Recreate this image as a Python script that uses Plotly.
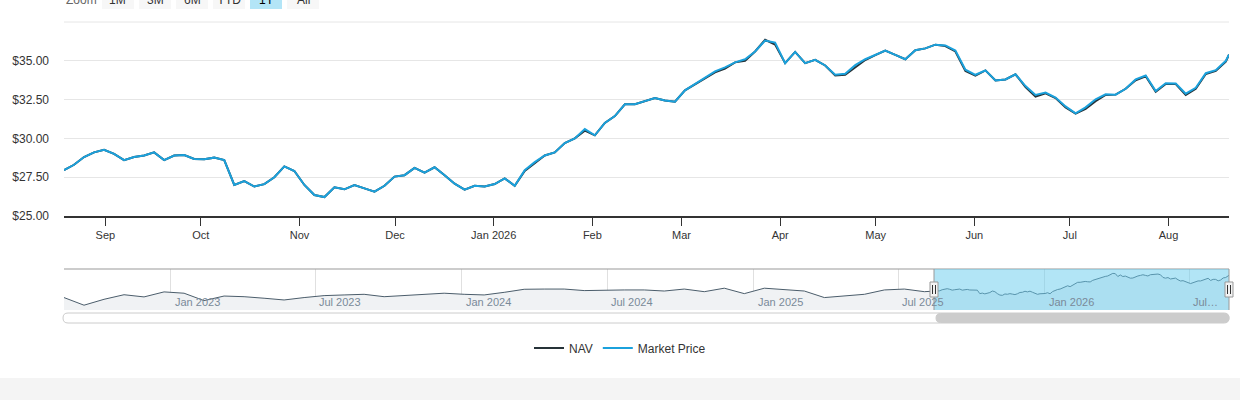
import pandas as pd
import plotly.graph_objects as go

# ---- data ----
market_price = [27.95, 28.3, 28.8, 29.1, 29.27, 29.0, 28.6, 28.8, 28.9, 29.1, 28.6, 28.9, 28.93, 28.68, 28.65,
                28.76, 28.6, 27.0, 27.25, 26.9, 27.05, 27.5, 28.2, 27.9, 27.0, 26.35, 26.22, 26.85, 26.72, 27.0,
                26.78, 26.57, 26.95, 27.54, 27.63, 28.1, 27.8, 28.14, 27.63, 27.08, 26.7, 26.95, 26.9, 27.06, 27.42,
                26.95, 27.95, 28.47, 28.9, 29.1, 29.7, 30.0, 30.6, 30.2, 31.0, 31.44, 32.2, 32.2, 32.4,
                32.6, 32.44, 32.37, 33.1, 33.5, 33.9, 34.32, 34.58, 34.9, 35.1, 35.6, 36.3, 36.17, 34.85, 35.57,
                34.85, 35.06, 34.7, 34.1, 34.17, 34.72, 35.1, 35.36, 35.66, 35.38, 35.1, 35.68, 35.8, 36.04,
                35.99, 35.66, 34.43, 34.1, 34.38, 33.73, 33.8, 34.13, 33.37, 32.8, 32.95, 32.63, 32.06, 31.62,
                32.0, 32.52, 32.84, 32.82, 33.2, 33.8, 34.05, 33.05, 33.56, 33.54, 32.88, 33.26, 34.2, 34.4, 35.0, 35.4]
nav = [27.95, 28.3, 28.8, 29.1, 29.27, 29.0, 28.6, 28.8, 28.9, 29.1, 28.6, 28.9, 28.93, 28.68, 28.65,
       28.76, 28.6, 27.0, 27.25, 26.9, 27.05, 27.5, 28.2, 27.9, 27.0, 26.35, 26.22, 26.85, 26.72, 27.0,
       26.78, 26.57, 26.95, 27.54, 27.63, 28.1, 27.8, 28.14, 27.63, 27.08, 26.7, 26.95, 26.9, 27.06, 27.42,
       26.95, 27.9, 28.42, 28.9, 29.1, 29.7, 30.0, 30.5, 30.2, 31.0, 31.44, 32.2, 32.2, 32.4,
       32.6, 32.44, 32.37, 33.1, 33.5, 33.9, 34.25, 34.5, 34.9, 35.0, 35.6, 36.35, 36.05, 34.85, 35.57,
       34.85, 35.06, 34.7, 34.05, 34.1, 34.6, 35.05, 35.36, 35.66, 35.38, 35.1, 35.68, 35.8, 36.04,
       35.95, 35.6, 34.35, 34.05, 34.38, 33.73, 33.8, 34.13, 33.3, 32.7, 32.9, 32.6, 32.0, 31.6,
       31.9, 32.4, 32.8, 32.82, 33.2, 33.75, 34.0, 33.0, 33.5, 33.5, 32.8, 33.2, 34.15, 34.35, 34.95, 35.4]
main_start, main_end_sample, main_end = "2025-08-19", "2026-08-19", "2026-08-20"

history = [25.2, 21.7, 24.4, 26.5, 25.5, 27.8, 27.2, 23.8, 25.9, 25.6, 24.9, 24.1, 25.2, 26.1, 26.4,
           26.7, 25.6, 26.1, 26.7, 27.2, 26.7, 26.4, 27.6, 29.0, 29.1, 29.1, 28.4, 28.7, 28.7, 28.7,
           28.2, 29.1, 27.9, 29.5, 27.0, 29.5, 28.7, 28.2, 25.2, 26.1, 26.7, 28.7, 29.1, 27.9]
hist_start, hist_end = "2022-08-20", "2025-08-03"

y_tickvals = [25, 27.5, 30, 32.5, 35]
y_ticktext = ["$25.00", "$27.50", "$30.00", "$32.50", "$35.00"]
x_tickvals = ["2025-09-01", "2025-10-01", "2025-11-01", "2025-12-01", "2026-01-01", "2026-02-01",
              "2026-03-01", "2026-04-01", "2026-05-01", "2026-06-01", "2026-07-01", "2026-08-01"]
x_ticktext = ["Sep", "Oct", "Nov", "Dec", "Jan 2026", "Feb", "Mar", "Apr", "May", "Jun", "Jul", "Aug"]
nav_tickvals = ["2023-01-01", "2023-07-01", "2024-01-01", "2024-07-01", "2025-01-01", "2025-07-01",
                "2026-01-01", "2026-07-01"]
nav_ticktext = ["Jan 2023", "Jul 2023", "Jan 2024", "Jul 2024", "Jan 2025", "Jul 2025", "Jan 2026", "Jul…"]
buttons = ["1M", "3M", "6M", "YTD", "1Y", "All"]

# ---- build ----
W, H = 1240, 400
def px(x): return x / W
def py(y): return 1 - y / H

main_dates = list(pd.date_range(main_start, main_end_sample, periods=len(market_price) - 1)) + [pd.Timestamp(main_end)]
hist_dates = list(pd.date_range(hist_start, hist_end, periods=len(history)))
nav_x = hist_dates + main_dates
nav_y = history + market_price

BLUE = "#1ba1dc"
DARK = "#263238"
fig = go.Figure()
fig.add_trace(go.Scatter(x=main_dates, y=nav, name="NAV", mode="lines",
                         line=dict(color=DARK, width=2), hoverinfo="skip"))
fig.add_trace(go.Scatter(x=main_dates, y=market_price, name="Market Price", mode="lines",
                         line=dict(color=BLUE, width=2), hoverinfo="skip"))
fig.add_trace(go.Scatter(x=nav_x, y=nav_y, mode="lines", fill="tozeroy", fillcolor="#f0f2f4",
                         line=dict(color="#4b5d6b", width=1), showlegend=False,
                         xaxis="x2", yaxis="y2", hoverinfo="skip"))

font = dict(family="Liberation Sans, Arial, sans-serif", size=12, color="#333333")
dom_x = [px(64), px(1229)]
fig.update_layout(
    width=W, height=H, margin=dict(l=0, r=0, t=0, b=0),
    paper_bgcolor="white", plot_bgcolor="rgba(0,0,0,0)", font=font,
    xaxis=dict(domain=dom_x, range=[main_start, main_end], tickvals=x_tickvals, ticktext=x_ticktext,
               showgrid=False, showline=True, linecolor="#333333", linewidth=1.5,
               ticks="outside", ticklen=8, tickcolor="#333333", tickfont=dict(size=11), automargin=False),
    yaxis=dict(domain=[py(216), py(22)], range=[25, 37.5], tickvals=y_tickvals, ticktext=y_ticktext,
               gridcolor="#e6e6e6", zeroline=False, showline=False, tickfont=dict(size=12),
               ticklabelstandoff=14, automargin=False),
    xaxis2=dict(domain=dom_x, range=[hist_start, main_end], anchor="y2", tickvals=nav_tickvals,
                showticklabels=False, showgrid=True, gridcolor="#e0e0e0", zeroline=False, automargin=False),
    yaxis2=dict(domain=[py(310), py(269)], range=[19.5, 38.3], anchor="x2", showticklabels=False,
                showgrid=False, zeroline=False, automargin=False),
    legend=dict(orientation="h", x=0.5, xanchor="center", y=py(348), yanchor="middle",
                font=dict(size=12, color="#333333"), itemwidth=30),
    showlegend=True,
)

shapes = []
anns = []
shapes.append(dict(type="line", xref="paper", yref="paper", x0=px(64), x1=px(1229), y0=py(22), y1=py(22),
                   line=dict(color="#e6e6e6", width=1)))
for v, t in zip(nav_tickvals, nav_ticktext):
    anns.append(dict(x=v, y=py(302), xref="x2", yref="paper", text=t, showarrow=False, xanchor="left",
                     xshift=2, yanchor="middle", font=dict(size=11, color="#7a8a99")))
shapes.append(dict(type="line", xref="paper", yref="paper", x0=px(64), x1=px(1229), y0=py(269), y1=py(269),
                   line=dict(color="#999999", width=1)))
shapes.append(dict(type="rect", xref="paper", yref="paper", x0=px(934), x1=px(1229), y0=py(310), y1=py(269),
                   fillcolor="rgba(102,204,238,0.5)", line=dict(width=0)))
shapes.append(dict(type="line", xref="paper", yref="paper", x0=px(934), x1=px(934), y0=py(310), y1=py(269),
                   line=dict(color="#999999", width=1)))
shapes.append(dict(type="line", xref="paper", yref="paper", x0=px(1229), x1=px(1229), y0=py(310), y1=py(269),
                   line=dict(color="#999999", width=1)))
for hx in (934, 1229):
    shapes.append(dict(type="rect", xref="paper", yref="paper", x0=px(hx - 4), x1=px(hx + 4), y0=py(297),
                       y1=py(282), fillcolor="#f2f2f2", line=dict(color="#999999", width=1)))
    for dx in (-1.5, 1.5):
        shapes.append(dict(type="line", xref="paper", yref="paper", x0=px(hx + dx), x1=px(hx + dx),
                           y0=py(294), y1=py(285), line=dict(color="#333333", width=1)))

def rounded(x0, x1, y0, y1, r):
    p = lambda x, y: f"{px(x):.5f},{py(y):.5f}"
    return (f"M{p(x0 + r, y0)} L{p(x1 - r, y0)} Q{p(x1, y0)} {p(x1, y0 + r)} L{p(x1, y1 - r)} "
            f"Q{p(x1, y1)} {p(x1 - r, y1)} L{p(x0 + r, y1)} Q{p(x0, y1)} {p(x0, y1 - r)} "
            f"L{p(x0, y0 + r)} Q{p(x0, y0)} {p(x0 + r, y0)} Z")

shapes.append(dict(type="path", xref="paper", yref="paper", path=rounded(63, 1229, 313, 323, 5),
                   fillcolor="white", line=dict(color="#cccccc", width=1)))
shapes.append(dict(type="path", xref="paper", yref="paper", path=rounded(936, 1229, 313.5, 322.5, 4.5),
                   fillcolor="#cccccc", line=dict(color="#cccccc", width=1)))
shapes.append(dict(type="rect", xref="paper", yref="paper", x0=0, x1=1, y0=0, y1=py(378),
                   fillcolor="#f4f4f4", line=dict(width=0), layer="below"))
anns.append(dict(x=px(64), y=py(0), xref="paper", yref="paper", text="Zoom", showarrow=False,
                 xanchor="left", yanchor="middle", font=dict(size=12, color="#666666")))
bx = [102, 139, 176, 213, 250, 287]
for b, x0 in zip(buttons, bx):
    sel = b == "1Y"
    shapes.append(dict(type="rect", xref="paper", yref="paper", x0=px(x0), x1=px(x0 + 32), y0=py(9),
                       y1=py(-12), fillcolor="#b3e5f7" if sel else "#f7f7f7", line=dict(width=0)))
    anns.append(dict(x=px(x0 + 16), y=py(0), xref="paper", yref="paper", text=b, showarrow=False,
                     xanchor="center", yanchor="middle",
                     font=dict(size=12, color="#000000" if sel else "#333333")))
fig.update_layout(shapes=shapes, annotations=anns)
fig.write_html("out.html", config={"displayModeBar": False},
               post_script="document.body.style.margin='0';document.body.style.overflow='hidden';")
